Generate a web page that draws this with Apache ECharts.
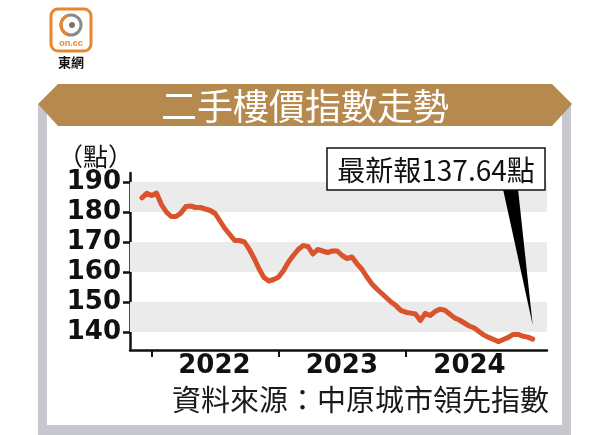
<!DOCTYPE html>
<html>
<head>
<meta charset="utf-8">
<script src="https://cdn.jsdelivr.net/npm/echarts@6/dist/echarts.min.js"></script>
<style>
  html, body { margin: 0; padding: 0; background: #ffffff; }
  #chart { width: 609px; height: 435px; }
</style>
</head>
<body>
<div id="chart"></div>
<script>
// ---- Data (biweekly readings of the Centa-City Leading Index) ----
const dates = [
  '2021-12-05','2021-12-19',
  '2022-01-02','2022-01-16','2022-01-30','2022-02-13','2022-02-27','2022-03-13','2022-03-27','2022-04-10','2022-04-24','2022-05-08','2022-05-22','2022-06-05','2022-06-19','2022-07-03','2022-07-17','2022-07-31','2022-08-14','2022-08-28','2022-09-11','2022-09-25','2022-10-09','2022-10-23','2022-11-06','2022-11-20','2022-12-04','2022-12-18',
  '2023-01-01','2023-01-15','2023-01-29','2023-02-12','2023-02-26','2023-03-12','2023-03-26','2023-04-09','2023-04-23','2023-05-07','2023-05-21','2023-06-04','2023-06-18','2023-07-02','2023-07-16','2023-07-30','2023-08-13','2023-08-27','2023-09-10','2023-09-24','2023-10-08','2023-10-22','2023-11-05','2023-11-19','2023-12-03','2023-12-17','2023-12-31',
  '2024-01-14','2024-01-28','2024-02-11','2024-02-25','2024-03-10','2024-03-24','2024-04-07','2024-04-21','2024-05-05','2024-05-19','2024-06-02','2024-06-16','2024-06-30','2024-07-14','2024-07-28','2024-08-11','2024-08-25','2024-09-08','2024-09-22','2024-10-06','2024-10-20','2024-11-03','2024-11-17','2024-12-01','2024-12-15','2024-12-29'
];
const indexValues = [
  184.7, 186.2,
  185.5, 186.3, 182.5, 180.0, 178.5, 178.5, 179.7, 181.8, 182.0, 181.5, 181.5, 181.0, 180.5, 179.5, 177.0, 174.5, 172.5, 170.5, 170.5, 170.0, 167.5, 164.5, 161.0, 158.2, 157.0, 157.5,
  158.3, 160.5, 163.3, 165.5, 167.5, 168.8, 168.5, 166.0, 167.5, 167.0, 166.5, 167.0, 167.0, 165.5, 164.5, 165.0, 162.8, 161.0, 158.5, 156.2, 154.5, 153.0, 151.5, 150.0, 148.8, 147.2, 146.6,
  146.3, 146.0, 143.8, 146.2, 145.5, 146.8, 147.6, 147.3, 146.0, 144.7, 144.0, 143.0, 142.0, 141.4, 140.2, 139.0, 138.2, 137.5, 136.8, 137.5, 138.2, 139.2, 139.2, 138.6, 138.3, 137.64
];
const yTickValues = [140, 150, 160, 170, 180, 190];
const yBands = [[140, 150], [160, 170], [180, 190]];
const yearTicks = ['2022-01-01', '2023-01-01', '2024-01-01'];
const yearLabelPositions = ['2022-07-01', '2023-07-01', '2024-07-01'];
const xRange = ['2021-11-01', '2025-02-08'];
const yRange = [134, 193];
const titleText = '二手樓價指數走勢';
const unitText = '（點）';
const latestText = '最新報137.64點';
const sourceText = '資料來源：中原城市領先指數';

const ts = d => Date.parse(d + 'T00:00:00Z');
const seriesData = dates.map((d, i) => [ts(d), indexValues[i]]);

const chart = echarts.init(document.getElementById('chart'), null, { renderer: 'canvas' });

const CJK = '"Noto Sans CJK TC", "Noto Sans CJK SC", sans-serif';

const staticGraphics = [
  // frame
  { type: 'rect', z: -20, shape: { x: 38, y: 104, width: 533, height: 331 }, style: { fill: '#c6c8cd' } },
  { type: 'rect', z: -19, shape: { x: 47, y: 104, width: 515, height: 321 }, style: { fill: '#ffffff' } },
  // banner
  { type: 'polygon', z: 50, shape: { points: [[38,104],[58,84],[552,84],[572,104],[552,126],[58,126]] }, style: { fill: '#b68a4e' } },
  { type: 'text', z: 51, style: { text: titleText, x: 305, y: 106, align: 'center', verticalAlign: 'middle', fill: '#ffffff', font: '36px ' + CJK } },
  // unit
  { type: 'text', z: 51, style: { text: unitText, x: 58, y: 156, align: 'left', verticalAlign: 'middle', fill: '#111', font: '25px ' + CJK } },
  // source
  { type: 'text', z: 51, style: { text: sourceText, x: 549, y: 400, align: 'right', verticalAlign: 'middle', fill: '#1a1a1a', font: '29px ' + CJK } },
  // logo
  { type: 'rect', z: 51, shape: { x: 51, y: 9, width: 40, height: 42, r: 7 }, style: { fill: '#ffffff', stroke: '#e9852c', lineWidth: 3 } },
  { type: 'circle', z: 52, shape: { cx: 71, cy: 25, r: 10 }, style: { fill: 'none', stroke: '#8a8a8a', lineWidth: 3 } },
  { type: 'arc', z: 53, shape: { cx: 71, cy: 25, r: 10, startAngle: Math.PI * 0.6, endAngle: Math.PI * 1.4 }, style: { fill: 'none', stroke: '#e9852c', lineWidth: 3 } },
  { type: 'circle', z: 53, shape: { cx: 72, cy: 25, r: 3 }, style: { fill: '#777' } },
  { type: 'text', z: 53, style: { text: 'on.cc', x: 71, y: 44, align: 'center', verticalAlign: 'middle', fill: '#e9852c', font: 'bold 9px "Liberation Sans", sans-serif' } },
  { type: 'text', z: 53, style: { text: '東網', x: 71, y: 62, align: 'center', verticalAlign: 'middle', fill: '#111', font: 'bold 13px ' + CJK } }
];

const option = {
  backgroundColor: '#ffffff',
  animation: false,
  grid: { left: 130, right: 62, top: 173, bottom: 85, containLabel: false },
  xAxis: {
    type: 'value',
    min: ts(xRange[0]),
    max: ts(xRange[1]),
    splitLine: { show: false },
    axisLine: { show: true, lineStyle: { color: '#111', width: 2.5 } },
    axisTick: { show: true, inside: false, length: 7, lineStyle: { color: '#111', width: 2 }, customValues: yearTicks.map(ts) },
    axisLabel: {
      customValues: yearLabelPositions.map(ts),
      formatter: v => String(new Date(v).getUTCFullYear()),
      color: '#111', fontSize: 26, fontWeight: 'bold', fontFamily: '"DejaVu Sans", sans-serif', margin: 3
    }
  },
  yAxis: {
    type: 'value',
    min: yRange[0],
    max: yRange[1],
    splitLine: { show: false },
    axisLine: { show: true, lineStyle: { color: '#111', width: 2.5 } },
    axisTick: { show: true, length: 7, lineStyle: { color: '#111', width: 2.5 }, customValues: yTickValues },
    axisLabel: {
      customValues: yTickValues,
      color: '#111', fontSize: 26, fontWeight: 'bold', fontFamily: '"DejaVu Sans", sans-serif', margin: 9
    }
  },
  series: [{
    type: 'line',
    data: seriesData,
    showSymbol: false,
    symbol: 'none',
    lineStyle: { color: '#d9532c', width: 5, join: 'round', cap: 'round' },
    z: 5,
    markArea: {
      silent: true,
      itemStyle: { color: '#ebebeb' },
      data: yBands.map(b => [{ yAxis: b[0] }, { yAxis: b[1] }])
    }
  }],
  graphic: staticGraphics
};
chart.setOption(option);

// Callout pointing at the latest value
const last = seriesData[seriesData.length - 1];
const tip = chart.convertToPixel({ seriesIndex: 0 }, last);
const boxX = 327, boxY = 148, boxW = 218, boxH = 42;
chart.setOption({
  graphic: staticGraphics.concat([
    { type: 'polygon', z: 60, shape: { points: [[503, boxY + boxH - 1], [518, boxY + boxH - 1], [tip[0], tip[1] - 14]] }, style: { fill: '#000' } },
    { type: 'rect', z: 61, shape: { x: boxX, y: boxY, width: boxW, height: boxH }, style: { fill: '#ffffff', stroke: '#111', lineWidth: 1.5 } },
    { type: 'text', z: 62, style: { text: latestText, x: boxX + boxW / 2, y: boxY + boxH / 2 + 1, align: 'center', verticalAlign: 'middle', fill: '#111', font: '28px ' + CJK } }
  ])
});
</script>
</body>
</html>
